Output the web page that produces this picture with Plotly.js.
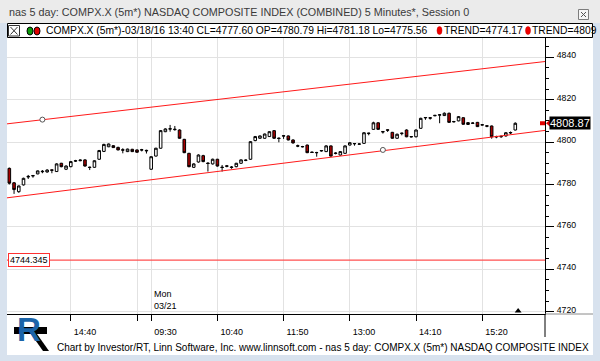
<!DOCTYPE html>
<html><head><meta charset="utf-8">
<script src="https://cdn.plot.ly/plotly-3.0.1.min.js"></script>
<style>html,body{margin:0;padding:0;background:#fff}#chart{width:600px;height:361px}</style>
</head><body><div id="chart"></div>
<script>
// ---------- data ----------
const friTimes = ['13:35','13:40','13:45','13:50','13:55','14:00','14:05','14:10','14:15','14:20','14:25','14:30','14:35','14:40','14:45','14:50','14:55','15:00','15:05','15:10','15:15','15:20','15:25','15:30','15:35','15:40','15:45','15:50','15:55','16:00'];
const monTimes = ['09:30','09:35','09:40','09:45','09:50','09:55',
 '10:00','10:05','10:10','10:15','10:20','10:25','10:30','10:35','10:40','10:45','10:50','10:55',
 '11:00','11:05','11:10','11:15','11:20','11:25','11:30','11:35','11:40','11:45','11:50','11:55',
 '12:00','12:05','12:10','12:15','12:20','12:25','12:30','12:35','12:40','12:45','12:50','12:55',
 '13:00','13:05','13:10','13:15','13:20','13:25','13:30','13:35','13:40','13:45','13:50','13:55',
 '14:00','14:05','14:10','14:15','14:20','14:25','14:30','14:35','14:40','14:45','14:50','14:55',
 '15:00','15:05','15:10','15:15','15:20','15:25','15:30','15:35','15:40','15:45','15:50','15:55'];
const barLabels = friTimes.map(t => '03/18 ' + t).concat(monTimes.map(t => '03/21 ' + t));

const openP = [4787.6,4780.79,4776.6,4779.8,4783.5,4784.0,4785.0,4786.0,4785.9,4786.9,
4786.1,4790.0,4787.2,4788.4,4791.0,4791.2,4791.6,4788.2,4788.1,4791.9,
4795.6,4797.8,4798.3,4797.5,4796.4,4795.5,4796.6,4796.3,4796.2,4796.1,
4787.2,4793.4,4797.1,4804.9,4806.1,4806.1,4805.7,4801.3,4794.7,4788.1,
4790.6,4793.6,4790.1,4789.7,4791.9,4788.2,4788.8,4788.0,4788.4,4790.0,
4791.3,4791.9,4800.7,4801.8,4801.8,4802.6,4805.4,4801.9,4802.8,4802.9,
4801.0,4798.3,4797.9,4798.6,4795.3,4795.1,4795.8,4795.5,4798.2,4794.6,
4793.9,4794.7,4798.6,4799.2,4799.0,4799.4,4804.0,4806.0,4809.1,4805.0,
4805.8,4804.6,4801.8,4804.0,4805.7,4802.4,4802.5,4806.5,4811.4,4811.5,
4812.4,4812.7,4812.5,4813.6,4809.5,4810.0,4811.5,4808.3,4808.8,4809.3,
4808.0,4807.7,4807.6,4802.4,4802.5,4802.9,4804.3,4805.7];
const highP = [4788.0,4781.18,4779.5,4783.2,4784.5,4784.5,4786.6,4786.8,4787.2,4787.0,
4790.0,4790.2,4789.0,4791.1,4791.6,4791.8,4791.9,4788.4,4791.4,4796.3,
4799.2,4799.3,4798.6,4797.8,4797.1,4796.9,4796.8,4796.5,4796.8,4796.4,
4793.3,4797.3,4805.7,4806.5,4808.1,4807.6,4806.0,4801.5,4794.9,4790.0,
4794.2,4794.0,4790.5,4792.2,4792.1,4789.2,4789.2,4788.7,4790.2,4791.8,
4791.8,4800.4,4802.9,4803.1,4804.0,4805.1,4805.6,4802.1,4803.2,4803.1,
4801.3,4798.8,4798.2,4798.8,4795.5,4795.4,4796.2,4798.5,4798.4,4795.2,
4795.7,4798.4,4800.0,4799.5,4799.4,4804.7,4804.4,4809.6,4809.3,4805.2,
4806.0,4804.8,4804.0,4804.4,4806.0,4802.8,4806.0,4811.5,4811.8,4811.8,
4812.8,4813.2,4814.0,4813.9,4810.0,4812.3,4811.7,4809.4,4809.3,4809.5,
4808.4,4808.0,4807.8,4803.0,4803.1,4804.7,4805.0,4809.3];
const lowP = [4780.0,4775.56,4776.1,4779.5,4782.6,4783.2,4784.8,4785.3,4785.6,4785.3,
4785.9,4788.1,4786.8,4788.1,4790.6,4791.0,4788.4,4786.8,4787.9,4791.6,
4795.3,4797.6,4797.2,4796.1,4794.7,4795.3,4795.3,4795.0,4795.6,4794.6,
4786.9,4793.2,4796.9,4804.7,4804.9,4805.4,4801.6,4794.8,4788.1,4787.8,
4790.3,4790.5,4786.1,4789.4,4788.4,4786.1,4788.1,4787.4,4788.1,4789.8,
4791.0,4791.6,4800.4,4801.6,4801.6,4802.4,4801.5,4799.9,4801.5,4800.8,
4799.3,4797.6,4797.5,4794.8,4794.9,4793.1,4795.5,4795.3,4793.1,4794.2,
4793.6,4794.5,4798.4,4798.3,4798.7,4799.2,4803.2,4805.8,4805.8,4804.0,
4804.8,4801.6,4801.6,4803.2,4802.3,4802.2,4802.2,4806.3,4810.5,4810.6,
4812.2,4808.9,4812.3,4809.1,4809.3,4809.8,4808.2,4808.1,4808.6,4807.1,
4807.8,4807.0,4801.6,4801.8,4802.0,4802.6,4803.8,4805.5];
const closeP = [4780.6,4777.60,4779.3,4782.9,4783.8,4784.2,4786.4,4786.2,4786.8,4786.7,
4789.7,4788.4,4788.7,4790.8,4791.2,4791.5,4788.7,4788.0,4791.2,4796.0,
4798.9,4799.1,4797.4,4796.3,4796.2,4796.7,4795.5,4795.2,4796.4,4795.9,
4793.1,4797.1,4805.4,4806.2,4806.3,4805.9,4801.8,4795.0,4788.4,4789.7,
4793.9,4790.8,4789.9,4791.9,4788.7,4788.0,4788.6,4788.2,4790.0,4791.6,
4791.5,4800.2,4802.6,4802.9,4803.8,4804.9,4801.8,4801.7,4803.0,4801.0,
4799.6,4798.1,4797.8,4795.0,4795.1,4795.0,4796.0,4798.2,4793.4,4794.8,
4795.5,4798.2,4799.7,4799.3,4799.1,4804.4,4804.2,4809.1,4806.0,4804.8,
4805.6,4801.8,4803.7,4804.2,4802.5,4802.6,4805.7,4811.2,4811.6,4811.3,
4812.6,4812.9,4813.6,4809.3,4809.7,4812.0,4808.4,4809.2,4809.0,4807.3,
4808.2,4807.5,4802.5,4802.6,4802.7,4804.4,4804.5,4808.87];

const tickBars = ['03/18 14:40','03/18 15:50','03/21 09:30','03/21 10:40','03/21 11:50','03/21 13:00','03/21 14:10','03/21 15:20'];
const tickText = ['14:40','','09:30','10:40','11:50','13:00','14:10','15:20'];

// trend channel: values at the left and right edges of the plot
const upperTrend = [4808.6, 4838.0];
const lowerTrend = [4773.7, 4805.5];
const trendValues = ['4774.17', '4809'];
const pivotBars = ['03/18 14:10', '03/21 13:35'];
const pivotValues = [4810.6, 4796.3];
const levelValue = 4744.345;
const sessionMarkBar = 107.6;   // small black triangle at the bottom
const infoBarIndex = 1;

// ---------- layout geometry ----------
const L = 7, T = 38, W = 538, H = 276;
const PX = x => (x - L) / W;
const PY = y => (T + H - y) / H;
const xRange = [-0.49, 113.28];
const yRange = [4718.9, 4849.1];
const FONT = '"Liberation Sans", Arial, sans-serif';

const idx = barLabels.map((_, i) => i);
const pos = lab => barLabels.indexOf(lab);

const traces = [
  {type:'scatter', mode:'lines', x: xRange, y: upperTrend, line:{color:'#ff1a1a', width:1}, hoverinfo:'skip'},
  {type:'scatter', mode:'lines', x: xRange, y: lowerTrend, line:{color:'#ff1a1a', width:1}, hoverinfo:'skip'},
  {type:'candlestick', x: idx, open: openP, high: highP, low: lowP, close: closeP,
   increasing:{line:{color:'#000', width:1}, fillcolor:'#ffffff'},
   decreasing:{line:{color:'#000', width:1}, fillcolor:'#a80000'},
   whiskerwidth:0, hoverinfo:'skip'},
  {type:'scatter', mode:'markers', x: pivotBars.map(pos), y: pivotValues,
   marker:{symbol:'circle', size:5, color:'#fff', line:{color:'#555', width:1}}, hoverinfo:'skip'},
  {type:'scatter', mode:'markers', x:[sessionMarkBar], y:[yRange[0]+1.4], cliponaxis:false,
   marker:{symbol:'triangle-up', size:6, color:'#000'}, hoverinfo:'skip'}
];

const i1 = infoBarIndex;
const infoText = 'COMPX.X (5m*)-03/18/16 ' + friTimes[i1] +
  ' CL=' + closeP[i1].toFixed(2) + ' OP=' + openP[i1].toFixed(2) +
  ' Hi=' + highP[i1].toFixed(2) + ' Lo=' + lowP[i1].toFixed(2);

const frame = '#d8e2ee';
const shapes = [
  // window frame
  {type:'rect', xref:'paper', yref:'paper', x0:PX(0), x1:PX(600), y0:PY(0), y1:PY(23), fillcolor:'#ebebeb', line:{width:0}, layer:'below'},
  {type:'rect', xref:'paper', yref:'paper', x0:PX(0), x1:PX(7), y0:PY(23), y1:PY(361), fillcolor:frame, line:{width:0}, layer:'below'},
  {type:'rect', xref:'paper', yref:'paper', x0:PX(593), x1:PX(600), y0:PY(23), y1:PY(361), fillcolor:frame, line:{width:0}, layer:'below'},
  {type:'rect', xref:'paper', yref:'paper', x0:PX(0), x1:PX(600), y0:PY(355), y1:PY(361), fillcolor:frame, line:{width:0}, layer:'below'},
  // close button
  {type:'rect', xref:'paper', yref:'paper', x0:PX(578.5), x1:PX(588.5), y0:PY(9.5), y1:PY(19.5), fillcolor:'#f6f6f6', line:{color:'#7d7d7d', width:1}},
  {type:'line', xref:'paper', yref:'paper', x0:PX(581), x1:PX(586), y0:PY(12), y1:PY(17), line:{color:'#555', width:1}},
  {type:'line', xref:'paper', yref:'paper', x0:PX(581), x1:PX(586), y0:PY(17), y1:PY(12), line:{color:'#555', width:1}},
  // info bar
  {type:'rect', xref:'paper', yref:'paper', x0:PX(7.5), x1:PX(592.5), y0:PY(23.5), y1:PY(37.5), fillcolor:'#fff', line:{color:'#000', width:1}, layer:'below'},
  {type:'rect', xref:'paper', yref:'paper', x0:PX(8.5), x1:PX(19.5), y0:PY(25.5), y1:PY(36), fillcolor:'#fff', line:{color:'#333', width:1}},
  {type:'line', xref:'paper', yref:'paper', x0:PX(10.5), x1:PX(17.5), y0:PY(27), y1:PY(34.5), line:{color:'#333', width:1}},
  {type:'line', xref:'paper', yref:'paper', x0:PX(10.5), x1:PX(17.5), y0:PY(34.5), y1:PY(27), line:{color:'#333', width:1}},
  {type:'circle', xref:'paper', yref:'paper', x0:PX(27), x1:PX(33), y0:PY(27), y1:PY(35), fillcolor:'#0a9a0a', line:{color:'#000', width:1}},
  {type:'circle', xref:'paper', yref:'paper', x0:PX(34), x1:PX(40), y0:PY(27), y1:PY(35), fillcolor:'#e00000', line:{color:'#000', width:1}},
  {type:'circle', xref:'paper', yref:'paper', x0:PX(437), x1:PX(442), y0:PY(26.5), y1:PY(34.5), fillcolor:'#f00000', line:{color:'#c00000', width:0.5}},
  {type:'circle', xref:'paper', yref:'paper', x0:PX(525.5), x1:PX(530.5), y0:PY(26.5), y1:PY(34.5), fillcolor:'#f00000', line:{color:'#c00000', width:0.5}},
  // axis extensions
  {type:'line', xref:'paper', yref:'paper', x0:1, x1:PX(593), y0:0, y1:0, line:{color:'#8a8a8a', width:1}},
  {type:'line', xref:'paper', yref:'paper', x0:1, x1:1, y0:0, y1:PY(337), line:{color:'#000', width:1}},
  // support level
  {type:'line', xref:'paper', yref:'y', x0:0, x1:1, y0:levelValue, y1:levelValue, line:{color:'#ff5050', width:1.2}},
  // last price marker
  {type:'path', xref:'paper', yref:'y', xsizemode:'pixel', ysizemode:'pixel', xanchor:1, yanchor:closeP[closeP.length-1],
   path:'M-5,-2 L0,-2 L0,2 L-5,2 Z M1,0 L7,-5 L7,5 Z', fillcolor:'#e00000', line:{width:0}},
  // logo stripes
  {type:'path', xref:'paper', yref:'paper',
   path:`M${PX(14)},${PY(327)} L${PX(47)},${PY(327)} L${PX(47)},${PY(334)} L${PX(14)},${PY(334)} Z`, fillcolor:'#000', line:{width:0}},
  {type:'path', xref:'paper', yref:'paper',
   path:`M${PX(31)},${PY(334)} L${PX(37)},${PY(334)} L${PX(49)},${PY(351)} L${PX(43)},${PY(351)} Z`, fillcolor:'#000', line:{width:0}}
];

const annotations = [
  {xref:'paper', yref:'paper', x:PX(7), y:PY(12.5), xanchor:'left', yanchor:'middle', showarrow:false,
   text:'nas 5 day: COMPX.X (5m*) NASDAQ COMPOSITE INDEX (COMBINED) 5 Minutes*, Session 0',
   font:{family:FONT, size:10.8, color:'#3a3a3a'}},
  {xref:'paper', yref:'paper', x:PX(44), y:PY(30.5), xanchor:'left', yanchor:'middle', showarrow:false,
   text:infoText, font:{family:FONT, size:10.3, color:'#000'}},
  {xref:'paper', yref:'paper', x:PX(441.5), y:PY(30.5), xanchor:'left', yanchor:'middle', showarrow:false,
   text:'TREND=' + trendValues[0], font:{family:FONT, size:10.3, color:'#000'}},
  {xref:'paper', yref:'paper', x:PX(530), y:PY(30.5), xanchor:'left', yanchor:'middle', showarrow:false,
   text:'TREND=' + trendValues[1], font:{family:FONT, size:10.3, color:'#000'}},
  {xref:'x', yref:'paper', x:pos('03/21 09:30'), y:0, xanchor:'left', yanchor:'bottom', xshift:1, yshift:1, showarrow:false,
   align:'left', text:'Mon<br>03/21', font:{family:FONT, size:9, color:'#000'}},
  {xref:'paper', yref:'y', x:PX(549), y:closeP[closeP.length-1], xanchor:'left', yanchor:'middle', showarrow:false,
   text:closeP[closeP.length-1].toFixed(2), bgcolor:'#000', borderpad:0, font:{family:FONT, size:11, color:'#fff'}},
  {xref:'paper', yref:'y', x:PX(7.5), y:levelValue, xanchor:'left', yanchor:'middle', showarrow:false,
   text:String(levelValue), bgcolor:'#fff', bordercolor:'#ff3030', borderwidth:1, borderpad:1,
   font:{family:FONT, size:9, color:'#000'}},
  {xref:'paper', yref:'paper', x:PX(55), y:PY(347), xanchor:'left', yanchor:'middle', showarrow:false,
   text:'Chart by Investor/RT, Linn Software, Inc. www.linnsoft.com - nas 5 day: COMPX.X (5m*) NASDAQ COMPOSITE INDEX',
   font:{family:FONT, size:10, color:'#000'}},
  {xref:'paper', yref:'paper', x:PX(29), y:PY(329), xanchor:'center', yanchor:'middle', showarrow:false,
   text:'<b>R</b>', font:{family:FONT, size:33, color:'#1b64a8'}}
];

const layout = {
  width:600, height:361,
  margin:{l:L, r:600 - L - W, t:T, b:361 - T - H, pad:0},
  paper_bgcolor:'#ffffff', plot_bgcolor:'#ffffff',
  showlegend:false, boxgap:0.22,
  font:{family:FONT, size:9, color:'#000'},
  xaxis:{type:'linear', range:xRange, rangeslider:{visible:false}, fixedrange:true,
    showgrid:true, gridcolor:'#e2e2e2', gridwidth:1, zeroline:false,
    showline:true, linecolor:'#000', linewidth:1,
    ticks:'outside', ticklen:6, tickcolor:'#000',
    tickmode:'array', tickvals:tickBars.map(pos), ticktext:tickText,
    ticklabelposition:'outside right', ticklabelstandoff:9, ticklabelshift:2,
    tickfont:{family:FONT, size:9, color:'#000'}},
  yaxis:{side:'right', range:yRange, fixedrange:true,
    tickmode:'linear', tick0:4720, dtick:20,
    showgrid:true, gridcolor:'#e2e2e2', gridwidth:1, zeroline:false,
    showline:true, linecolor:'#000', linewidth:1,
    ticks:'outside', ticklen:8, tickcolor:'#000',
    ticklabelposition:'outside', ticklabelstandoff:1, ticklabelshift:-2,
    tickfont:{family:FONT, size:8.7, color:'#000'},
    minor:{tick0:4720, dtick:5, ticks:'outside', ticklen:3, tickcolor:'#000', showgrid:false}},
  shapes, annotations
};

Plotly.newPlot('chart', traces, layout, {staticPlot:true, displayModeBar:false});
</script>
</body></html>
